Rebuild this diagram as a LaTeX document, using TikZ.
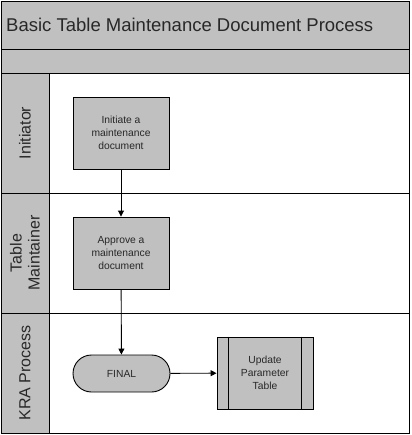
\documentclass[tikz,border=0pt]{standalone}
\usepackage{fontspec}
\setmainfont{Liberation Sans}
\usetikzlibrary{arrows.meta}
\definecolor{bandgray}{RGB}{192,192,192}
\definecolor{txtgray}{RGB}{40,40,40}
\begin{document}
\begin{tikzpicture}[x=1pt,y=-1pt,
  frame/.style={draw=black,line width=0.9pt},
  band/.style={fill=bandgray,draw=black,line width=0.9pt},
  lanelabel/.style={rotate=90,font=\fontsize{16}{18}\selectfont,text=txtgray,align=center,inner sep=0pt},
  taskbox/.style={draw=black,fill=bandgray,line width=0.9pt,minimum width=96pt,minimum height=72pt,
    align=center,font=\fontsize{10.3}{12.7}\selectfont,text=txtgray,inner sep=0pt},
  termbox/.style={draw=black,fill=bandgray,line width=0.9pt,minimum width=97pt,minimum height=37pt,
    rounded corners=18.5pt,font=\fontsize{10.3}{12.7}\selectfont,text=txtgray,inner sep=0pt},
  flow/.style={draw=black,line width=0.9pt,-{Triangle[length=6pt,width=6pt]}}]
\useasboundingbox (0,0) rectangle (411,435);
% bands
\path[band] (1,1) rectangle (409,49);
\path[band] (1,49) rectangle (409,73);
\path[band] (1,73) rectangle (49,433);
\path[frame] (49,73) rectangle (409,433);
\draw[frame] (1,193) -- (409,193);
\draw[frame] (1,313) -- (409,313);
\path[frame] (1,1) rectangle (409,433);
\node[anchor=west,font=\fontsize{18.5}{22}\selectfont,text=txtgray,inner sep=0pt] (title) at (6,24.5) {Basic Table Maintenance Document Process};
% lane labels
\node[lanelabel] (l1) at (25,133) {Initiator};
\node[lanelabel] (l2) at (25,253) {Table\\Maintainer};
\node[lanelabel] (l3) at (25,373) {KRA Process};
% tasks
\node[taskbox] (init) at (121,133) {Initiate a\\maintenance\\document};
\node[taskbox] (appr) at (121,253) {Approve a\\maintenance\\document};
\node[termbox] (final) at (121.5,373.5) {FINAL};
\node[taskbox] (upd) at (265,373) {Update\\Parameter\\Table};
\draw[line width=0.9pt] ([xshift=12pt]upd.north west) -- ([xshift=12pt]upd.south west);
\draw[line width=0.9pt] ([xshift=-12pt]upd.north east) -- ([xshift=-12pt]upd.south east);
% flows
\draw[flow] (init) -- (appr);
\draw[flow] (appr) -- (final);
\draw[flow] (final) -- (upd);
\end{tikzpicture}
\end{document}
